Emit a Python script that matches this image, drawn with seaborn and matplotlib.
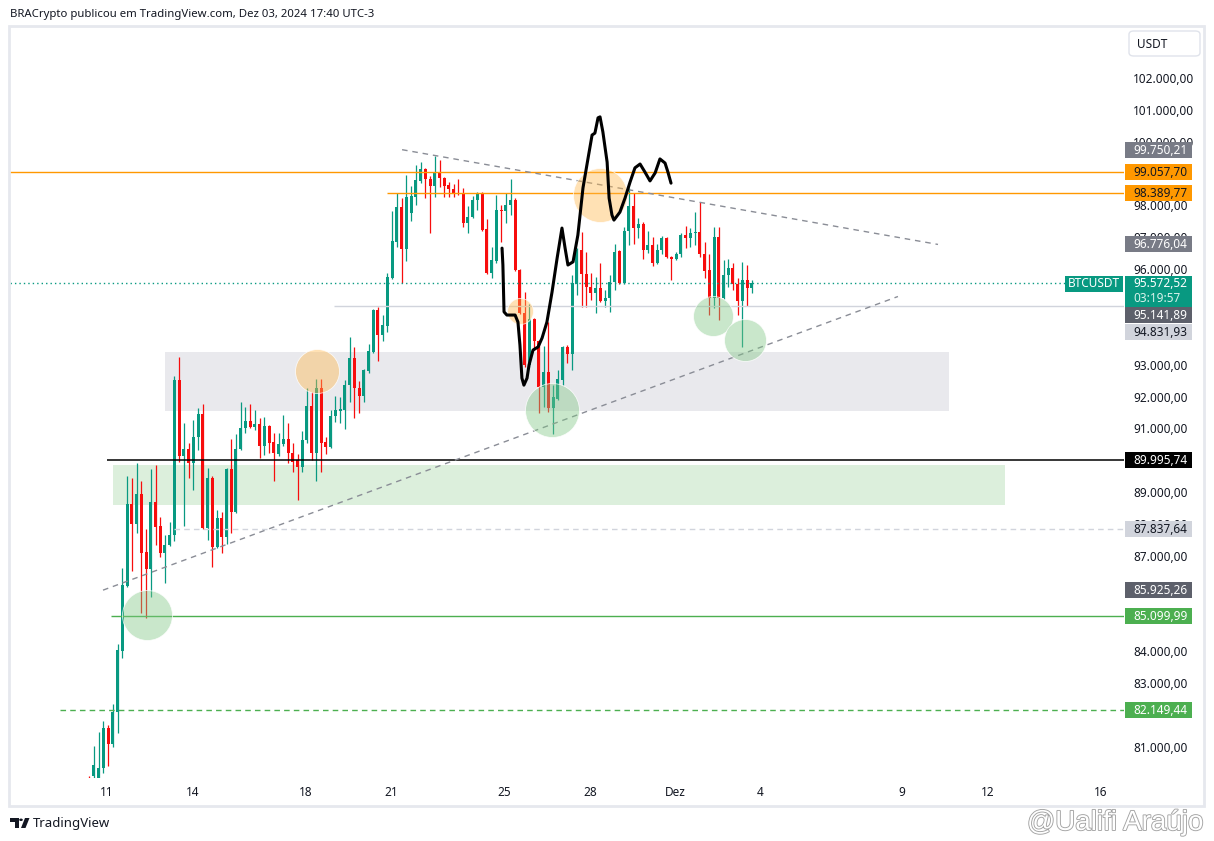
import numpy as np
import pandas as pd
import matplotlib
matplotlib.use("Agg")
import matplotlib.pyplot as plt
import seaborn as sns
from matplotlib.patches import Rectangle, FancyBboxPatch, Polygon, Circle
import matplotlib.patheffects as pe

# ---------------- data (4h BTCUSDT candles, UTC-3) ----------------
start_time = "2024-11-10 09:00"
opens = [79950, 80090, 80030, 80340, 81600, 81100, 82100, 84020, 86060, 88630,
         88000, 88940, 87120, 86590, 88690, 87940, 87090, 87340, 87660, 92520,
         90140, 90360, 89920, 90730, 91450, 87880, 89450, 87280, 88190, 87590,
         89730, 88380, 90360, 91010, 91230, 91050, 91140, 90450, 91080, 90580,
         90200, 90510, 90670, 90230, 90010, 89790, 90640, 91700, 90230, 92270,
         90580, 90420, 91390, 91550, 91580, 92360, 93210, 92270, 92020, 92800,
         93400, 94720, 93930, 94220, 95720, 96850, 97950, 96630, 97760, 98260,
         98770, 99140, 98830, 98610, 99050, 98860, 98640, 98520, 98390, 98360,
         97450, 97640, 98170, 98390, 97260, 95880, 96260, 97860, 97830, 98010,
         98170, 95970, 94620, 92990, 94440, 93750, 92300, 92770, 91640, 91930,
         92520, 93560, 93340, 95540, 96600, 95850, 95440, 95250, 95410, 95000,
         95100, 95600, 96570, 95570, 97200, 97980, 97290, 97420, 96600, 96760,
         96190, 96600, 96980, 96380, 96320, 96480, 97070, 96980, 97140, 97170,
         96480, 95970, 95100, 97010, 95100, 95820, 96040, 95540, 95000, 95660,
         95410]
highs = [80090, 81030, 81470, 81820, 81690, 82350, 84240, 86620, 89510, 89450,
         89920, 89350, 87850, 89730, 89850, 88220, 87660, 88060, 92650, 93240,
         91170, 90540, 91270, 91640, 91770, 89760, 89500, 88440, 88380, 89760,
         90670, 90830, 91830, 91670, 91770, 91580, 91330, 91360, 91110, 90860,
         90860, 91420, 91170, 90540, 90200, 90920, 92270, 92140, 92550, 92550,
         90730, 91580, 92020, 91990, 92520, 93870, 93560, 92490, 92870, 93650,
         94750, 94810, 94560, 95880, 97830, 98390, 98230, 98960, 98610, 99270,
         99360, 99160, 98920, 99550, 99430, 98880, 98740, 98670, 98830, 98550,
         97980, 98300, 98420, 98420, 97580, 96700, 98330, 98010, 98390, 98830,
         98230, 96000, 95280, 94910, 94460, 93780, 93590, 94340, 92360, 92840,
         93580, 93620, 95820, 96660, 97170, 96540, 95880, 95750, 96190, 95350,
         95820, 96790, 96600, 97320, 98550, 98390, 97610, 97480, 97200, 97010,
         96790, 97040, 97010, 96400, 96540, 97140, 97360, 97290, 97790, 98110,
         96850, 96480, 97320, 97320, 96290, 96320, 96190, 95720, 96230, 96130,
         95650]
lows = [79500, 80030, 80000, 80190, 80400, 81000, 81440, 83800, 86020, 86530,
        87720, 85210, 85050, 85710, 87340, 86970, 86150, 87300, 87470, 89950,
        87940, 89450, 89070, 90320, 87850, 87500, 86650, 87250, 87090, 87370,
        87720, 88350, 90320, 90860, 91000, 90950, 90070, 90170, 90230, 89350,
        90140, 90450, 89920, 89630, 88760, 89630, 90540, 90010, 89350, 89630,
        90200, 90400, 91200, 91170, 90980, 91830, 91330, 91490, 91830, 92740,
        93380, 93120, 93750, 94030, 95700, 96700, 95570, 96260, 97510, 98000,
        98700, 98230, 97140, 98260, 98580, 98260, 98260, 98260, 98340, 97320,
        97140, 97600, 97860, 97200, 95860, 95720, 96190, 96850, 97450, 97700,
        95950, 94600, 92930, 92930, 93460, 91490, 91670, 91520, 90830, 91890,
        92360, 93060, 92840, 95190, 94810, 94810, 95030, 94620, 94970, 94810,
        94660, 95350, 95540, 95540, 96760, 96790, 96980, 96320, 96510, 96100,
        96160, 96480, 96350, 95660, 96290, 96380, 96660, 96700, 96760, 96380,
        95720, 94560, 94780, 94400, 95060, 95440, 95350, 94560, 93560, 94840,
        95250]
closes = [79700, 80440, 80340, 81600, 81100, 82100, 84050, 86090, 88630, 88000,
          88940, 87090, 86590, 88690, 87910, 87090, 87340, 87660, 92520, 90140,
          90360, 89920, 90730, 91450, 87880, 89450, 87280, 88190, 87590, 89730,
          88380, 90360, 91010, 91230, 91050, 91140, 90450, 91080, 90540, 90230,
          90510, 90670, 90230, 89950, 89790, 90640, 91700, 90230, 92270, 90540,
          90420, 91390, 91580, 91610, 92360, 93210, 92270, 92020, 92840, 93430,
          94720, 93930, 94250, 95750, 96880, 97950, 96630, 98260, 98300, 98800,
          99140, 98830, 98610, 99050, 98860, 98610, 98520, 98390, 98360, 97450,
          97640, 98170, 98390, 97230, 95880, 96290, 97860, 97830, 98010, 98170,
          95970, 94620, 92990, 94440, 93750, 92300, 92770, 91640, 91990, 92550,
          93560, 93340, 95570, 96600, 95850, 95440, 95250, 95410, 95000, 95100,
          95600, 96540, 95570, 97200, 97980, 97290, 97420, 96600, 96760, 96190,
          96600, 96980, 96380, 96320, 96480, 97070, 96980, 97140, 97170, 96480,
          95940, 95100, 97010, 95100, 95820, 96040, 95540, 95000, 95660, 95410,
          95572.52]

# time axis ticks (days from 11 Nov)
tick_days = [0, 3, 7, 10, 14, 17, 20, 23, 28, 31, 35]
tick_labels = ["11", "14", "18", "21", "25", "28", "Dez", "4", "9", "12", "16"]
# price scale labels that are (at least partly) visible
price_ticks = [81000, 83000, 84000, 87000, 88000, 89000, 91000, 92000, 93000,
               96000, 97000, 98000, 100000, 101000, 102000]

# horizontal drawing levels
hl_prices = [99057.70, 98389.77, 89995.74, 85099.99, 82149.44, 94831.93, 87837.64]
hl_start = [-3.5, 9.86, 0.0, 0.14, -1.65, 7.99, 2.36]
hl_colors = ["#ff9800", "#ff9800", "#000000", "#4caf50", "#4caf50", "#d1d4dc", "#d1d4dc"]
hl_styles = ["-", "-", "-", "-", (0, (4, 3)), "-", (0, (4, 3))]
hl_widths = [1.0, 1.0, 1.1, 1.0, 1.0, 1.0, 1.0]

# trend lines (day, price)
trend_upper = [(10.39, 99750.21), (29.26, 96776.04)]
trend_lower = [(-0.14, 85925.26), (27.85, 95141.89)]

# zones (day0, day1, price_low, price_high)
zone_grey = (2.04, 29.65, 91548, 93400)
zone_green = (0.21, 31.62, 88598, 89853)

# highlight circles
circ_day = [7.38, 14.54, 17.36, 1.40, 15.68, 21.35, 22.46]
circ_price = [92800, 94690, 98330, 85140, 91580, 94530, 93790]
circ_kind = ["o", "o", "o", "g", "g", "g", "g"]
circ_r_px = [22, 13, 27, 25, 27, 20, 21]

# freehand projection path
free_day = [13.91, 13.94, 13.98, 14.08, 14.37, 14.47, 14.54, 14.61, 14.68, 14.79,
            14.86, 15.00, 15.18, 15.32, 15.49, 15.67, 15.85, 16.02, 16.13, 16.23,
            16.41, 16.58, 16.76, 16.94, 17.08, 17.18, 17.29, 17.36, 17.46, 17.61,
            17.68, 17.78, 17.85, 18.06, 18.24, 18.42, 18.59, 18.77, 18.94, 19.12,
            19.30, 19.47, 19.65, 19.75, 19.86]
free_price = [96660, 96130, 94660, 94560, 94560, 94340, 93620, 92580, 92360, 92580,
              92990, 93460, 93560, 93840, 94340, 95280, 96350, 97290, 96660, 96130,
              96230, 97070, 98550, 99490, 100210, 100270, 100750, 100780, 100310, 99360,
              98230, 97700, 97540, 97790, 98230, 98740, 99180, 99300, 99050, 98770,
              99020, 99460, 99330, 99050, 98700]

# right-axis labels: (price, text, bg, fg, shift px)
axis_labels = [
    (99750.21, "99.750,21", "#787b86", "white", 0),
    (99057.70, "99.057,70", "#ff9800", "#131722", 0),
    (98389.77, "98.389,77", "#ff9800", "#131722", 0),
    (96776.04, "96.776,04", "#787b86", "white", 0),
    (95141.89, "95.141,89", "#5d606b", "white", 18),
    (94831.93, "94.831,93", "#d1d4dc", "#131722", 25.5),
    (89995.74, "89.995,74", "#000000", "white", 0),
    (87837.64, "87.837,64", "#d1d4dc", "#131722", 0),
    (85925.26, "85.925,26", "#5d606b", "white", 0),
    (85099.99, "85.099,99", "#4caf50", "white", 0),
    (82149.44, "82.149,44", "#4caf50", "white", 0),
]
last_price = 95572.52
countdown = "03:19:57"

# ---------------- styling ----------------
sns.set_theme(style="white")
plt.rcParams['font.family'] = ['Noto Sans', 'DejaVu Sans']

W, H = 1214, 841
fig = plt.figure(figsize=(W / 100, H / 100), dpi=100)
fig.patch.set_facecolor("white")


def fx(px):
    return px / W


def fy(py):
    return 1 - py / H


def br(v):
    return f"{v:,.2f}".replace(",", "X").replace(".", ",").replace("X", ".")


ax = fig.add_axes([fx(10), fy(778), fx(1124) - fx(10), fy(27) - fy(778)])
ax.set_facecolor("white")
XLIM = (-3.4155, 35.81)
YLIM = (80029, 103601)
ax.set_xlim(*XLIM)
ax.set_ylim(*YLIM)
for s in ax.spines.values():
    s.set_visible(False)
ax.grid(False)

TEAL = "#089981"
RED = "#f70d0d"

df = pd.DataFrame({"time": pd.date_range(start_time, periods=len(opens), freq="4h"),
                   "open": opens, "high": highs, "low": lows, "close": closes})
df["day"] = (df["time"] - pd.Timestamp("2024-11-11")) / pd.Timedelta("1D")
up = df["close"] >= df["open"]
cols = np.where(up, TEAL, RED)

# zones
for d0, d1, p0, p1, c in [(*zone_grey, "#e9e9ed"), (*zone_green, "#dcefdc")]:
    ax.add_patch(Rectangle((d0, p0), d1 - d0, p1 - p0, fc=c, ec="none", zorder=1))

# candles
ax.vlines(df["day"], df["low"], df["high"], colors=cols, lw=0.9, zorder=3)
body_h = np.maximum((df["close"] - df["open"]).abs(), 32)
ax.bar(df["day"], body_h, bottom=np.minimum(df["open"], df["close"]), width=0.105,
       color=cols, linewidth=0, zorder=4)

# horizontal levels
for p, s0, c, ls, lw in zip(hl_prices, hl_start, hl_colors, hl_styles, hl_widths):
    ax.hlines(p, s0, XLIM[1], colors=c, linestyles=ls, lw=lw, zorder=5)

# current price dotted line
ax.axhline(last_price, color=TEAL, ls=(0, (1, 2.2)), lw=1.0, zorder=5)

# trend lines
for tl in (trend_upper, trend_lower):
    ax.plot([tl[0][0], tl[1][0]], [tl[0][1], tl[1][1]], color="#8a8d96",
            ls=(0, (4, 3.5)), lw=1.0, zorder=5)

# circles
for d, p, k, r in zip(circ_day, circ_price, circ_kind, circ_r_px):
    fc = (1.0, 0.72, 0.30, 0.42) if k == "o" else (0.50, 0.78, 0.52, 0.42)
    sns.scatterplot(x=[d], y=[p], s=(2 * r * 0.72) ** 2, color=fc, edgecolor=(1, 1, 1, 0.8),
                    linewidth=0.6, ax=ax, zorder=6, legend=False)

# freehand line
ax.plot(free_day, free_price, color="black", lw=2.2, zorder=7,
        solid_capstyle="round", solid_joinstyle="round")
ax.set_xlabel("")
ax.set_ylabel("")

# axes ticks
ax.yaxis.tick_right()
ax.set_yticks(price_ticks)
ax.set_yticklabels([br(v) for v in price_ticks])
ax.tick_params(axis="y", length=0, pad=6.5, labelsize=8.5, labelcolor="#131722")
ax.set_xticks(tick_days)
ax.set_xticklabels(tick_labels)
ax.tick_params(axis="x", length=0, pad=6, labelsize=8.5, labelcolor="#131722")
ax.get_xticklabels()[tick_labels.index("Dez")].set_fontweight("bold")
ax.set_xlim(*XLIM)
ax.set_ylim(*YLIM)

# pane border
fig.add_artist(Rectangle((fx(9), fy(806)), fx(1204) - fx(9), fy(26) - fy(806),
                         transform=fig.transFigure, fill=False, ec="#e6e8ee", lw=2,
                         zorder=0.5))

fig.canvas.draw()


def ypix(price):
    return ax.transData.transform((0, price))[1]


def box(x0, ytop_disp, w, h, fc, z=5):
    fig.add_artist(Rectangle((x0 / W, (ytop_disp - h) / H), w / W, h / H,
                             transform=fig.transFigure, fc=fc, ec="none", zorder=z))


for p, t, bg, fg, sh in axis_labels:
    yc = ypix(p) - sh
    box(1125, yc + 8, 67, 16, bg)
    fig.text(fx(1133), (yc - 0.5) / H, t, color=fg, fontsize=8.5, va="center",
             ha="left", zorder=6)

# current price label
yc = ypix(last_price)
box(1125, yc + 7, 67, 31, TEAL)
fig.text(fx(1133), (yc - 1) / H, br(last_price), color="white", fontsize=8.5,
         va="center", ha="left", zorder=6)
fig.text(fx(1133), (yc - 16) / H, countdown, color="#d8f2ec", fontsize=8.5,
         va="center", ha="left", zorder=6)
box(1065, yc + 7, 58, 16, TEAL)
fig.text(fx(1094), (yc - 1) / H, "BTCUSDT", color="white", fontsize=8.5,
         va="center", ha="center", zorder=6)

# USDT currency box
fig.add_artist(FancyBboxPatch((fx(1129), fy(56)), fx(1200) - fx(1129), fy(31) - fy(56),
                              boxstyle="round,pad=0,rounding_size=0.004",
                              transform=fig.transFigure, fc="white", ec="#e0e3eb",
                              lw=1, zorder=5))
fig.text(fx(1137), fy(44), "USDT", color="#131722", fontsize=8.5, va="center",
         ha="left", zorder=6)

# header
fig.text(fx(10), fy(15), "BRACrypto publicou em TradingView.com, Dez 03, 2024 17:40 UTC-3",
         color="#131722", fontsize=8.2, va="center", ha="left")

# TradingView logo
fig.add_artist(Polygon([(fx(10), fy(818)), (fx(18.5), fy(818)), (fx(18.5), fy(828)),
                        (fx(14.5), fy(828)), (fx(14.5), fy(821.5)), (fx(10), fy(821.5))],
                       closed=True, transform=fig.transFigure, fc="#131722", ec="none"))
fig.add_artist(Circle((fx(21), fy(819.8)), 1.8 / W, transform=fig.transFigure,
                      fc="#131722", ec="none"))
fig.add_artist(Polygon([(fx(25), fy(818)), (fx(29.5), fy(818)), (fx(25.5), fy(828)),
                        (fx(21), fy(828))],
                       closed=True, transform=fig.transFigure, fc="#131722", ec="none"))
fig.text(fx(33), fy(824), "TradingView", color="#131722", fontsize=9.5, va="center",
         ha="left")

# watermark
fig.text(fx(1027), fy(830), "@Ualifi Araújo", fontsize=20, color="white",
         family=["Liberation Sans", "DejaVu Sans"], va="baseline", ha="left",
         path_effects=[pe.withStroke(linewidth=1.3, foreground="#a3a3a3")], zorder=10)

fig.savefig("out.png", dpi=100, facecolor="white")
